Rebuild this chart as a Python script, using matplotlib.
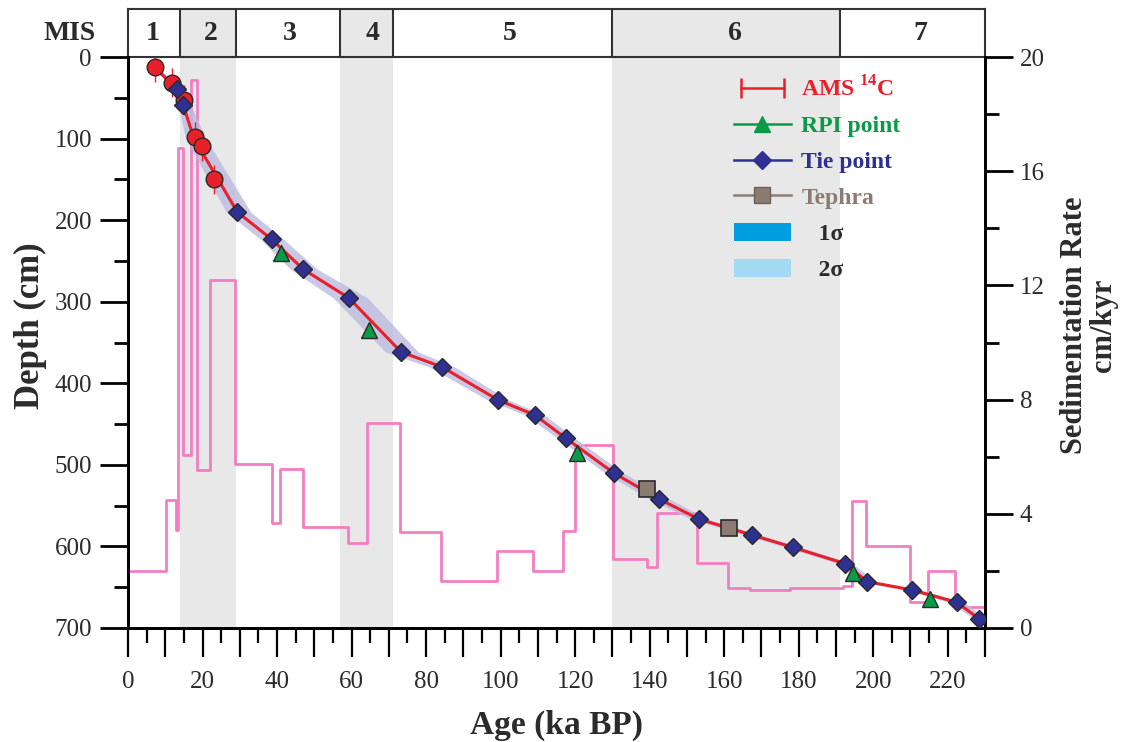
import matplotlib
matplotlib.use("Agg")
import matplotlib.pyplot as plt
from matplotlib.lines import Line2D
from matplotlib.patches import Patch
from matplotlib.legend_handler import HandlerLine2D
from matplotlib.ticker import MultipleLocator, FuncFormatter

plt.rcParams['font.family'] = ['Liberation Serif', 'DejaVu Serif']
plt.rcParams['mathtext.fontset'] = 'custom'
plt.rcParams['mathtext.rm'] = 'Liberation Serif'
plt.rcParams['mathtext.bf'] = 'Liberation Serif:bold'

# ---------------- data ----------------
mis_bounds = [0, 14, 29, 57, 71, 130, 191, 230]
mis_labels = ['1', '2', '3', '4', '5', '6', '7']
mis_shaded = [False, True, False, True, False, True, False]

ams_age = [7.25, 11.7, 15.0, 18.0, 19.8, 23.2]
ams_depth = [12.6, 31.5, 52.7, 97.7, 109.1, 150.0]
ams_err = [18, 18, 18, 18, 18, 18]

tie_age = [13.07, 14.84, 29.33, 38.57, 46.97, 59.31, 73.27, 84.27, 99.30, 109.23,
           117.55, 130.52, 142.51, 153.33, 167.47, 178.39, 192.43, 198.42, 210.49,
           222.41, 228.48]
tie_depth = [39.6, 58.8, 190, 223.5, 260, 295.5, 361.6, 380, 420.4, 439,
             467.5, 510.4, 541.9, 566.7, 586, 601, 621.1, 643.2, 653.4,
             668.5, 689]

rpi_age = [41.06, 64.8, 120.4, 194.7, 215.3]
rpi_depth = [240, 334.7, 485.9, 632.2, 664.5]

tephra_age = [139.4, 161.4]
tephra_depth = [529.6, 577.0]

model_age = [7.25, 13.07, 14.84, 17.6, 29.33, 38.57, 46.97, 59.31, 73.27, 84.27,
             99.30, 109.23, 117.55, 130.52, 142.51, 153.33, 167.47, 178.39, 192.43,
             198.42, 210.49, 222.41, 228.48]
model_depth = [12.6, 39.6, 58.8, 99, 190, 223.5, 260, 295.5, 361.6, 380,
               420.4, 439, 467.5, 510.4, 541.9, 566.7, 586, 601, 621.1,
               643.2, 653.4, 668.5, 689]
model_unc_lo = [0.6, 1.0, 1.4, 2.2, 3.0, 3.0, 3.4, 4.2, 4.2, 3.4,
                2.8, 2.6, 2.2, 2.4, 2.6, 2.2, 2.0, 2.0, 1.8,
                2.0, 2.0, 2.0, 1.4]
model_unc_hi = [0.8, 1.4, 2.0, 3.2, 3.6, 3.2, 3.8, 5.0, 4.6, 3.4,
                2.8, 2.6, 2.4, 2.6, 2.8, 2.4, 2.2, 2.2, 2.0,
                2.2, 2.2, 2.2, 1.6]

rate_edges = [0, 10.2, 12.8, 13.5, 14.8, 16.8, 18.6, 22.0, 28.8, 38.6, 40.8, 46.9,
              59.1, 64.2, 73.0, 83.9, 99.0, 108.8, 116.8, 120.0, 130.1, 139.2,
              141.9, 152.8, 161.0, 166.9, 177.7, 192.0, 194.4, 198.0, 209.9,
              214.8, 222.0, 229.5]
rate_vals = [2.0, 4.48, 3.43, 16.8, 6.06, 19.2, 5.53, 12.2, 5.73, 3.67, 5.56,
             3.53, 2.97, 7.17, 3.37, 1.65, 2.70, 2.01, 3.40, 6.41, 2.41, 2.15,
             4.04, 2.29, 1.39, 1.33, 1.39, 1.48, 4.45, 2.87, 0.92, 2.01, 0.75]

# ---------------- colours ----------------
RED = '#e8202a'
GREEN = '#0a9a48'
NAVY = '#2e3192'
TAUPE = '#8c7b73'
PINK = '#f27ec2'
GREY = '#e8e8e8'
BAND = '#bdbbdf'
EDGE = '#2a2a2a'
TXT = '#2b2b2b'

fig = plt.figure(figsize=(11.25, 7.42), dpi=100)
L, R = 128 / 1125, 985 / 1125
B, T = 1 - 628 / 742, 1 - 57 / 742
ax = fig.add_axes([L, B, R - L, T - B])
ax2 = ax.twinx()
axm = fig.add_axes([L, T, R - L, (57 - 9) / 742])

xmin, xmax = 0, 230

# MIS shading on lower twin axis
for i in range(len(mis_labels)):
    if mis_shaded[i]:
        ax2.axvspan(mis_bounds[i], mis_bounds[i + 1], color=GREY, zorder=0, lw=0)
        axm.axvspan(mis_bounds[i], mis_bounds[i + 1], color=GREY, zorder=0, lw=0)

# sedimentation rate step line
ax2.step(rate_edges, rate_vals + [rate_vals[-1]], where='post', color=PINK, lw=2.0, zorder=2)
ax2.set_ylim(0, 20)

ax.set_zorder(ax2.get_zorder() + 1)
ax.patch.set_visible(False)

# uncertainty band
lo = [a - u for a, u in zip(model_age, model_unc_lo)]
hi = [a + u for a, u in zip(model_age, model_unc_hi)]
ax.fill_betweenx(model_depth, lo, hi, color=BAND, alpha=0.8, lw=0, zorder=1)
ax.plot(model_age, model_depth, color=RED, lw=2.2, zorder=2)

ax.errorbar(ams_age, ams_depth, yerr=ams_err, fmt='none', ecolor=RED, elinewidth=1.0, zorder=3)
ax.plot(ams_age, ams_depth, 'o', ms=12, mfc=RED, mec=EDGE, mew=1.0, ls='none', zorder=4)
ax.plot(tie_age, tie_depth, 'D', ms=9, mfc=NAVY, mec=EDGE, mew=1.0, ls='none', zorder=5)
ax.plot(rpi_age, rpi_depth, '^', ms=11, mfc=GREEN, mec=EDGE, mew=1.0, ls='none', zorder=5)
ax.plot(tephra_age, tephra_depth, 's', ms=12, mfc=TAUPE, mec=EDGE, mew=1.2, ls='none', zorder=5)

ax.set_xlim(xmin, xmax)
ax.set_ylim(700, 0)

# ticks & spines
for a in (ax, ax2):
    for s in a.spines.values():
        s.set_linewidth(2.0)
    a.spines['top'].set_visible(False)

ax.xaxis.set_major_locator(MultipleLocator(10))
ax.xaxis.set_minor_locator(MultipleLocator(5))
ax.xaxis.set_major_formatter(FuncFormatter(lambda v, p: f"{int(round(v))}" if int(round(v)) % 20 == 0 else ""))
ax.yaxis.set_major_locator(MultipleLocator(100))
ax.yaxis.set_minor_locator(MultipleLocator(50))
ax2.yaxis.set_major_locator(MultipleLocator(4))
ax2.yaxis.set_minor_locator(MultipleLocator(2))

ax.tick_params(axis='x', which='major', direction='out', length=21, width=1.6,
               labelsize=18, pad=10, labelcolor=TXT)
ax.tick_params(axis='x', which='minor', direction='out', length=11, width=1.6)
ax.tick_params(axis='y', which='major', direction='out', length=20, width=2.0,
               labelsize=18, pad=6, labelcolor=TXT)
ax.tick_params(axis='y', which='minor', direction='out', length=10, width=2.0)
ax2.tick_params(axis='y', which='major', direction='out', length=20, width=2.0,
                labelsize=18, pad=5, labelcolor=TXT)
ax2.tick_params(axis='y', which='minor', direction='out', length=10, width=2.0)
ax2.tick_params(axis='x', which='both', bottom=False, labelbottom=False)

ax.set_xlabel('Age (ka BP)', fontsize=24, fontweight='bold', color=TXT, labelpad=12)
ax.set_ylabel('Depth (cm)', fontsize=25, fontweight='bold', color=TXT)
ax.yaxis.set_label_coords(-0.095, 0.53)
ax2.set_ylabel('Sedimentation Rate\ncm/kyr', fontsize=22, fontweight='bold', color=TXT,
               linespacing=1.0)
ax2.yaxis.set_label_coords(1.088, 0.53)

# MIS header
axm.set_xlim(xmin, xmax)
axm.set_ylim(0, 1)
axm.set_xticks([])
axm.set_yticks([])
for s in axm.spines.values():
    s.set_linewidth(1.5)
    s.set_color('#333333')
for b in mis_bounds[1:-1]:
    axm.axvline(b, color='#333333', lw=1.5)
mis_label_shift = [-0.5, 0.8, 0.5, 1.6, 1.9, 2.4, 2.1]
for i, lab in enumerate(mis_labels):
    axm.text((mis_bounds[i] + mis_bounds[i + 1]) / 2 + mis_label_shift[i], 0.5, lab,
             ha='center', va='center', fontsize=20, fontweight='bold', color=TXT)
axm.text(-0.038, 0.5, 'MIS', transform=axm.transAxes, ha='right', va='center',
         fontsize=20, fontweight='bold', color=TXT)

# legend
h_ams = Line2D([0], [0], color=RED, lw=1.8, marker='|', ms=14, mew=1.8)
h_rpi = Line2D([0], [0], color=GREEN, lw=1.8, marker='^', ms=12, mfc=GREEN, mec=GREEN)
h_tie = Line2D([0], [0], color=NAVY, lw=1.8, marker='D', ms=9, mfc=NAVY, mec=NAVY)
h_tep = Line2D([0], [0], color=TAUPE, lw=1.8, marker='s', ms=12, mfc=TAUPE, mec='#6e5f58')
h_1s = Patch(facecolor='#009de0', edgecolor='none')
h_2s = Patch(facecolor='#a3d9f3', edgecolor='none')
labels = [r'AMS $^{\mathbf{14}}$C', 'RPI point', 'Tie point', 'Tephra', '   1σ', '   2σ']
leg = ax.legend([h_ams, h_rpi, h_tie, h_tep, h_1s, h_2s], labels,
                handler_map={h_ams: HandlerLine2D(numpoints=2)},
                loc='upper left', bbox_to_anchor=(734 / 1125, 1 - 76 / 742),
                bbox_transform=fig.transFigure, frameon=False, borderpad=0,
                borderaxespad=0, handlelength=2.4, handleheight=0.8, handletextpad=0.45,
                labelspacing=0.58, prop={'size': 17, 'weight': 'bold'})
for txt, col in zip(leg.get_texts(), [RED, GREEN, NAVY, TAUPE, TXT, TXT]):
    txt.set_color(col)

fig.savefig('out.png', dpi=100)
